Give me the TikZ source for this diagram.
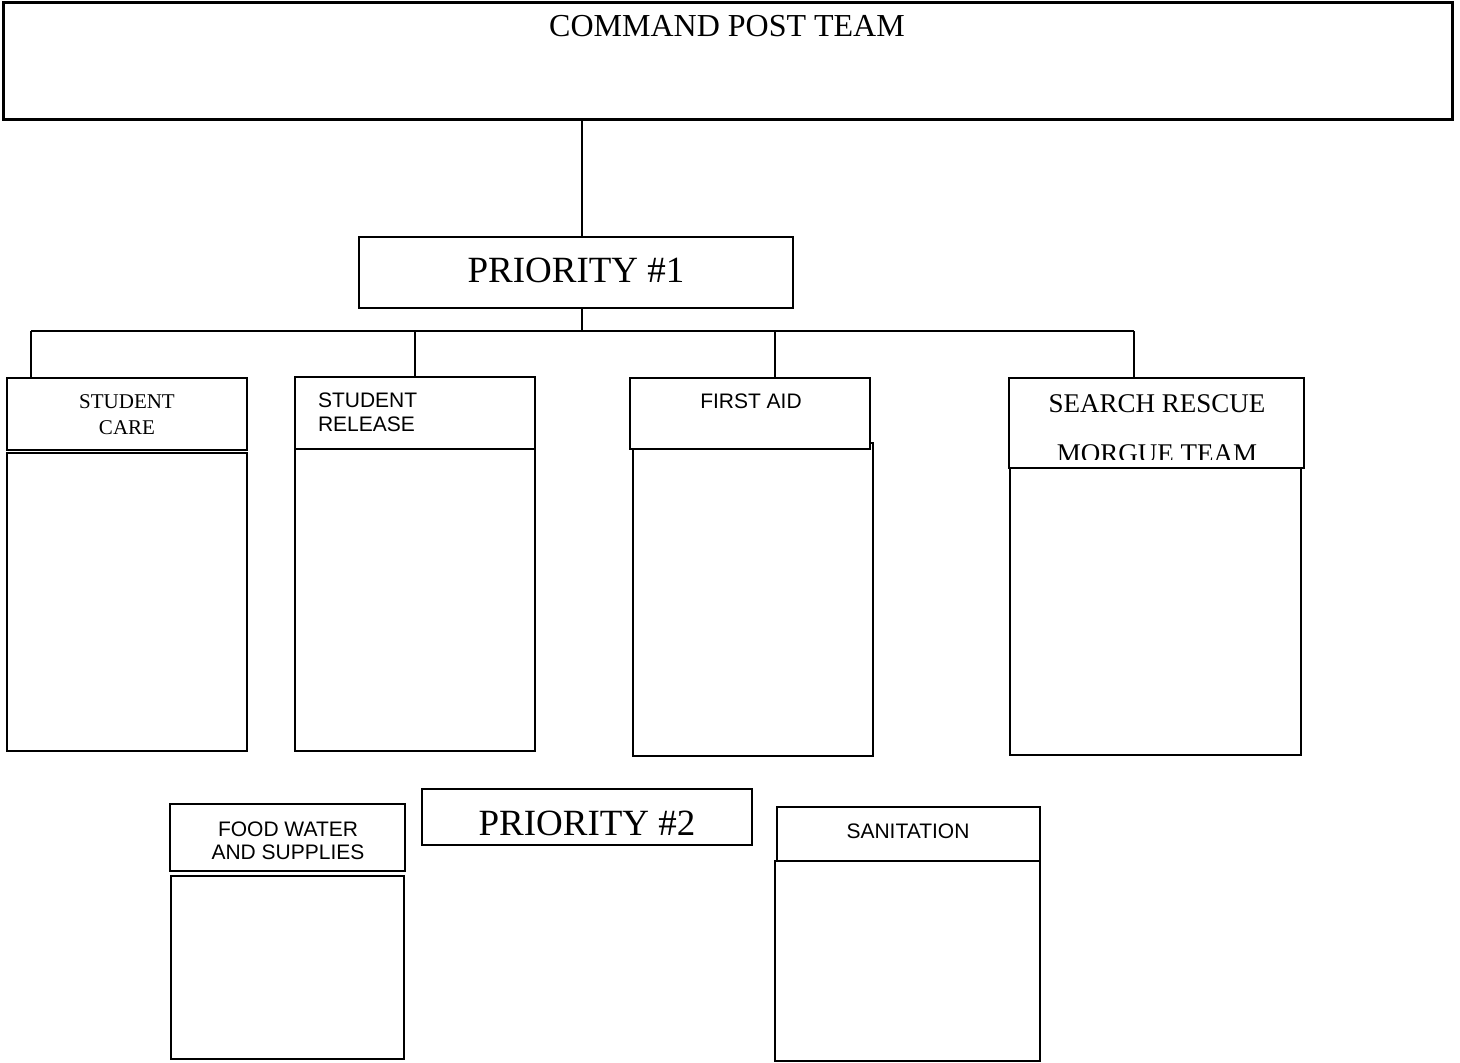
\documentclass[tikz,border=0pt]{standalone}
\usepackage{fontspec}
\newfontfamily\tms{Liberation Serif}
\newfontfamily\arl{Liberation Sans}
\begin{document}
\begin{tikzpicture}[x=1pt,y=-1pt,
  box/.style={draw, line width=2pt, fill=white, inner sep=0pt, outer sep=0pt, anchor=north west},
  conn/.style={line width=2pt},
  lbl/.style={inner sep=0pt, outer sep=0pt},
  serifsm/.style={font=\tms\fontsize{21}{26}\selectfont},
  sanssm/.style={font=\arl\fontsize{21}{24}\selectfont},
  big/.style={font=\tms\fontsize{37}{44}\selectfont}]
\useasboundingbox (0,0) rectangle (1460,1063);

% boxes
\node[box, line width=3pt, minimum width=1449pt, minimum height=117pt] (cmd) at (3,2) {};
\node[box, minimum width=434pt, minimum height=71pt] (p1) at (359,237) {};

\node[box, minimum width=240pt, minimum height=298pt] (scb) at (7,453) {};
\node[box, minimum width=240pt, minimum height=72pt] (sch) at (7,378) {};

\node[box, minimum width=240pt, minimum height=302pt] (srb) at (295,449) {};
\node[box, minimum width=240pt, minimum height=72pt] (srh) at (295,377) {};

\node[box, minimum width=240pt, minimum height=313pt] (fab) at (633,443) {};
\node[box, minimum width=240pt, minimum height=71pt] (fah) at (630,378) {};

\node[box, minimum width=291pt, minimum height=287pt] (srcb) at (1010,468) {};
\node[box, minimum width=295pt, minimum height=90pt] (srch) at (1009,378) {};

\node[box, minimum width=233pt, minimum height=183pt] (fwb) at (171,876) {};
\node[box, minimum width=235pt, minimum height=67pt] (fwh) at (170,804) {};

\node[box, minimum width=330pt, minimum height=56pt] (p2) at (422,789) {};

\node[box, minimum width=265pt, minimum height=200pt] (sanb) at (775,861) {};
\node[box, minimum width=263pt, minimum height=54pt] (sanh) at (777,807) {};

% connectors
\coordinate (j) at (582,331);
\coordinate (d1) at (31,331);
\coordinate (d2) at (415,331);
\coordinate (d3) at (775,331);
\coordinate (d4) at (1134,331);
\draw[conn] (cmd.south -| j) -- (p1.north -| j);
\draw[conn] (p1.south -| j) -- (j);
\draw[conn] (d1) -- (d4);
\draw[conn] (d1) -- (d1 |- sch.north);
\draw[conn] (d2) -- (d2 |- srh.north);
\draw[conn] (d3) -- (d3 |- fah.north);
\draw[conn] (d4) -- (d4 |- srch.north);

% labels
\node[lbl, anchor=base, font=\tms\fontsize{32}{38}\selectfont] (tcmd) at (727,36) {COMMAND POST TEAM};
\node[lbl, anchor=base, big] (tp1) at (576,282) {PRIORITY \#1};
\node[lbl, anchor=base, big] (tp2) at (587,835) {PRIORITY \#2};
\node[lbl, anchor=north, serifsm, align=center] (tsc) at (127,395) {STUDENT\\CARE};
\node[lbl, anchor=north west, sanssm, align=left] (tsr) at (318,393) {STUDENT\\RELEASE};
\node[lbl, anchor=base, sanssm] (tfa) at (751,408) {FIRST AID};
\begin{scope}
  \clip (1009,378) rectangle (1304,459);
  \node[lbl, anchor=north, font=\tms\fontsize{27}{50}\selectfont, align=center] (tsrc) at (1157,395) {SEARCH RESCUE\\MORGUE TEAM};
\end{scope}
\node[lbl, anchor=north, font=\arl\fontsize{21}{23}\selectfont, align=center] (tfw) at (288,822) {FOOD WATER\\AND SUPPLIES};
\node[lbl, anchor=base, sanssm] (tsan) at (908,838) {SANITATION};
\end{tikzpicture}
\end{document}
